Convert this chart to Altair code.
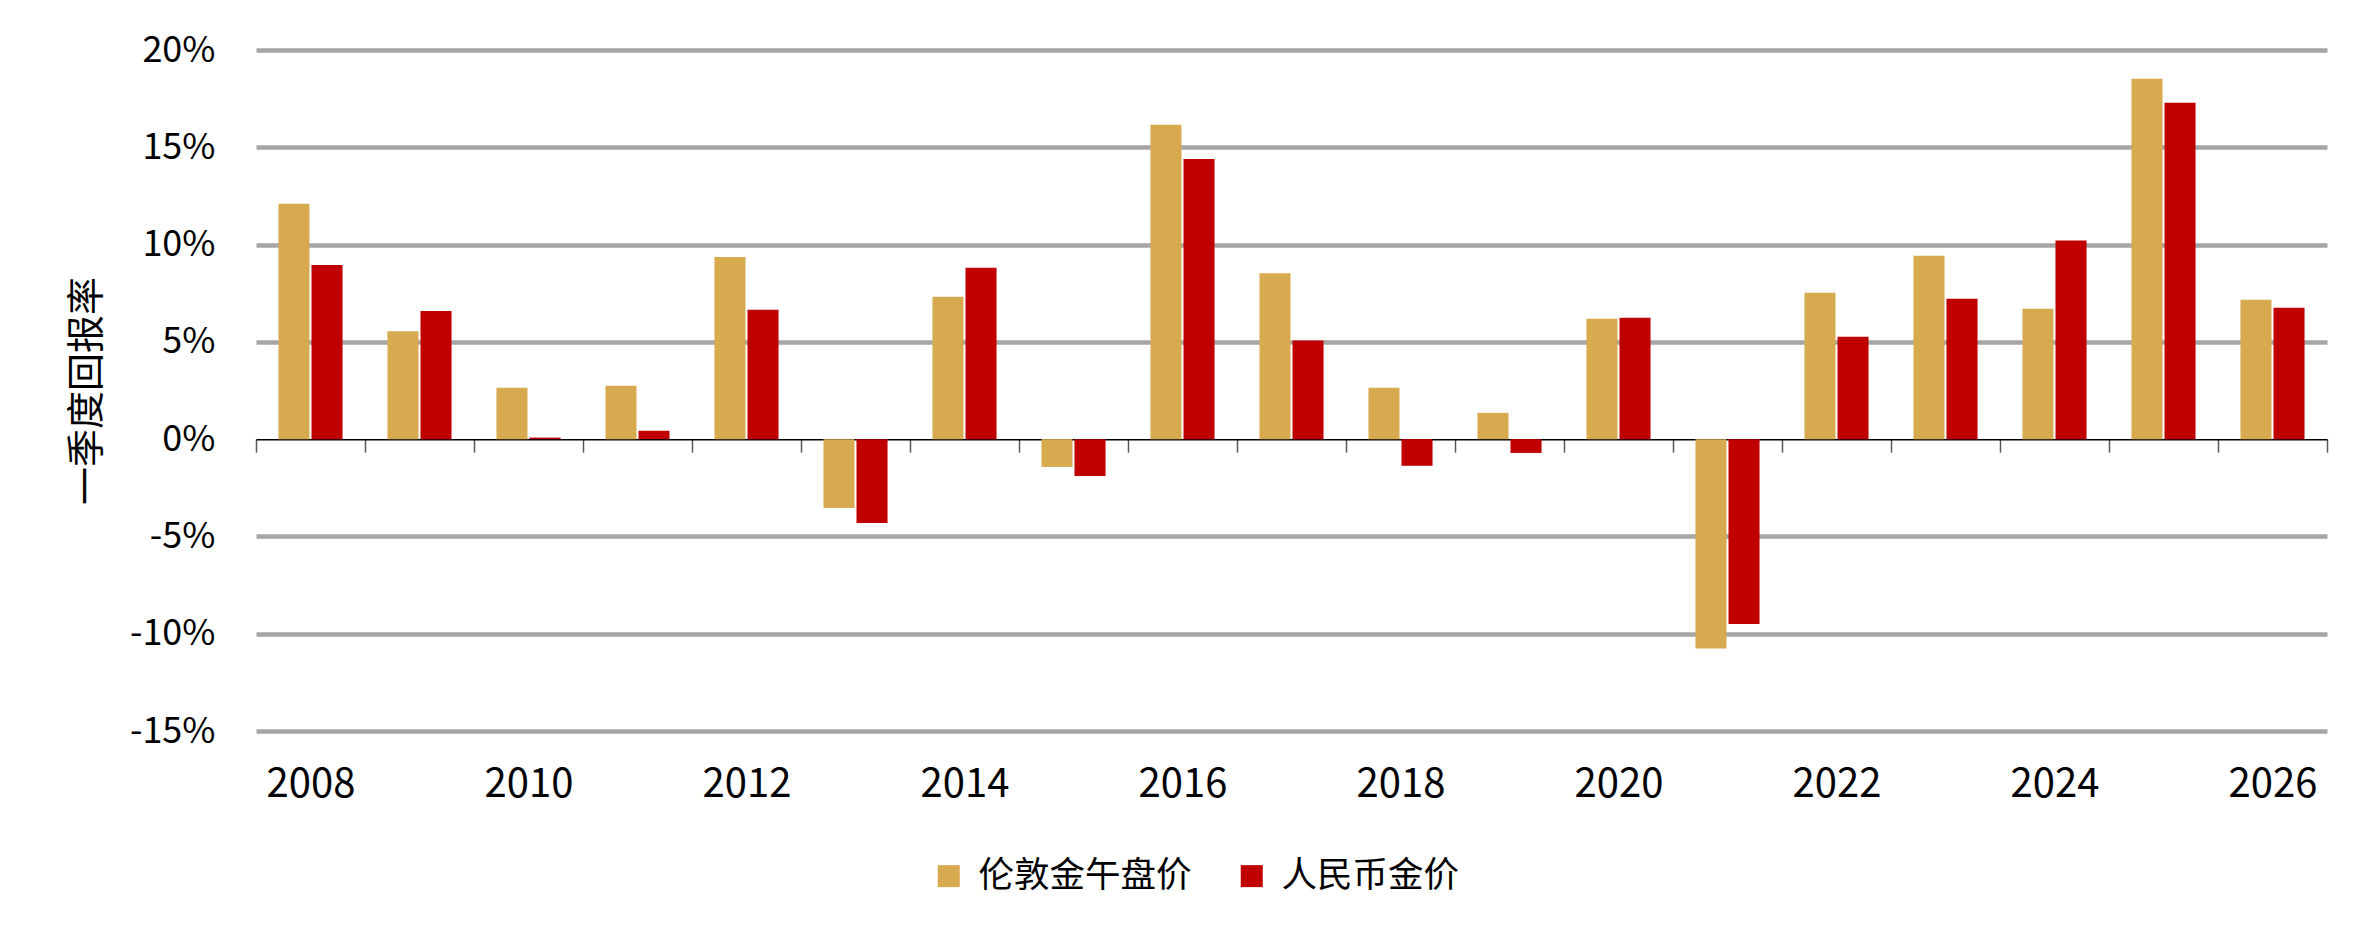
import altair as alt
import pandas as pd

years = [2008, 2009, 2010, 2011, 2012, 2013, 2014, 2015, 2016, 2017,
         2018, 2019, 2020, 2021, 2022, 2023, 2024, 2025, 2026]
london_pm = [12.1, 5.55, 2.64, 2.74, 9.36, -3.54, 7.32, -1.43, 16.16, 8.53,
             2.64, 1.35, 6.19, -10.76, 7.52, 9.42, 6.7, 18.52, 7.16]
rmb_gold = [8.95, 6.58, 0.08, 0.43, 6.65, -4.31, 8.81, -1.89, 14.4, 5.07,
            -1.37, -0.71, 6.24, -9.5, 5.26, 7.21, 10.21, 17.29, 6.75]
series = ["伦敦金午盘价", "人民币金价"]
colours = ["#D8AA4F", "#C00000"]
y_ticks = [-15, -10, -5, 0, 5, 10, 15, 20]

FONT = "Noto Sans CJK SC"
W, H = 2071, 681
zero_from_bottom = H * 15 / 35

df = pd.DataFrame({
    "year": years * 2,
    "series": [series[0]] * len(years) + [series[1]] * len(years),
    "value": london_pm + rmb_gold,
})

bars = alt.Chart(df).mark_bar().encode(
    x=alt.X("year:O", title=None,
            scale=alt.Scale(paddingInner=0, paddingOuter=0),
            axis=alt.Axis(orient="bottom", offset=-zero_from_bottom,
                          domainColor="black", domainWidth=1.5,
                          tickBand="extent", ticks=True, tickSize=13,
                          tickColor="#595959", tickWidth=1.5,
                          labelPadding=zero_from_bottom + 20,
                          labelFont=FONT, labelFontSize=40, labelColor="black",
                          labelAngle=0, labelOverlap=False,
                          labelExpr="datum.value % 2 === 0 ? datum.label : ''",
                          grid=False)),
    xOffset=alt.XOffset("series:N", sort=series,
                        scale=alt.Scale(paddingInner=0.06, paddingOuter=0.68)),
    y=alt.Y("value:Q", title="一季度回报率",
            scale=alt.Scale(domain=[-15, 20], nice=False, zero=False),
            axis=alt.Axis(values=y_ticks, labelExpr="datum.value + '%'",
                          domain=False, ticks=False, labelPadding=41,
                          labelFont=FONT, labelFontSize=36, labelColor="black",
                          grid=True, gridColor="#A6A6A6", gridWidth=4.5,
                          gridOpacity={"condition": {"test": "datum.value === 0", "value": 0},
                                       "value": 1},
                          titleFont=FONT, titleFontSize=38, titleFontWeight="normal",
                          titleColor="black", titleX=-150, titleY=H / 2)),
    color=alt.Color("series:N", sort=series,
                    scale=alt.Scale(domain=series, range=colours),
                    legend=alt.Legend(title=None, orient="none", direction="horizontal",
                                      legendX=675, legendY=808,
                                      symbolType="square", symbolSize=484,
                                      symbolStrokeWidth=0, symbolOpacity=1,
                                      labelFont=FONT, labelFontSize=35.5, labelLimit=0,
                                      labelColor="black", labelOffset=12,
                                      columnPadding=42)),
)

chart = bars.properties(
    width=W, height=H,
    autosize=alt.AutoSizeParams(type="none"),
    padding={"left": 248, "top": 42, "right": 40, "bottom": 180},
    background="white",
).configure_view(stroke=None)

chart.save("out.html", embed_options={"renderer": "svg", "actions": False})
